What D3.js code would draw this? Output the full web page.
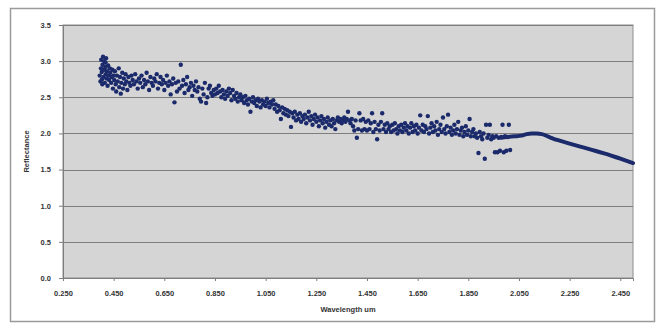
<!DOCTYPE html>
<html>
<head>
<meta charset="utf-8">
<script src="https://cdn.jsdelivr.net/npm/d3@7"></script>
<style>
  body { margin: 0; background: #fff; }
  svg { display: block; font-family: "Liberation Sans", Arial, sans-serif; }
</style>
</head>
<body>
<div id="chart"></div>
<script>
// scattered samples (µm, reflectance)
const wavelength = [
  0.395,0.398,0.400,0.401,0.403,0.405,0.406,0.408,0.410,0.412,0.413,0.415,0.417,0.419,0.420,
  0.422,0.424,0.426,0.428,0.430,0.432,0.435,0.437,0.440,0.442,0.445,0.447,0.450,0.404,0.418,
  0.452,0.455,0.458,0.460,0.463,0.466,0.470,0.472,0.475,0.478,0.480,0.484,0.487,0.490,0.494,
  0.497,0.500,0.504,0.508,0.512,0.516,0.520,0.525,0.530,0.535,0.540,0.545,0.550,
  0.555,0.560,0.565,0.570,0.575,0.580,0.585,0.590,0.595,0.600,0.605,0.610,0.615,0.620,0.625,
  0.630,0.635,0.640,0.645,0.650,0.655,0.660,0.665,0.670,0.675,0.680,0.685,0.690,0.695,0.700,
  0.705,0.710,0.715,0.720,0.725,0.730,0.735,0.740,0.745,0.750,0.755,0.760,0.765,0.770,0.775,
  0.780,0.785,0.790,0.795,0.800,0.805,0.810,0.815,0.820,0.825,0.830,0.835,0.840,0.845,0.850,
  0.855,0.860,0.865,0.870,0.875,0.880,0.885,0.890,0.895,0.900,0.905,0.910,0.915,0.920,0.925,
  0.930,0.935,0.940,0.945,0.950,0.955,0.960,0.965,0.970,0.975,0.980,0.985,0.990,0.995,1.000,
  1.005,1.010,1.015,1.020,1.025,1.030,1.035,1.040,1.045,1.050,1.055,1.060,1.065,1.070,1.075,
  1.080,1.085,1.090,1.095,1.100,1.105,1.110,1.115,1.120,1.125,1.130,1.135,1.140,1.145,1.150,
  1.155,1.160,1.165,1.170,1.175,1.180,1.185,1.190,1.195,1.200,
  1.205,1.210,1.215,1.220,1.225,1.230,1.235,1.240,1.245,1.250,1.255,1.260,1.265,1.270,1.275,
  1.280,1.285,1.290,1.295,1.300,1.305,1.310,1.315,1.320,1.325,1.330,1.335,1.340,1.345,1.350,
  1.355,1.360,1.365,1.370,1.375,1.380,1.385,1.390,1.395,1.400,1.405,1.410,1.415,1.420,1.425,
  1.430,1.435,1.440,1.445,
  1.450,1.455,1.460,1.465,1.470,1.475,1.480,1.485,1.490,1.495,1.500,1.505,1.510,1.515,1.520,
  1.525,1.530,1.535,1.540,1.545,1.550,1.555,1.560,1.565,1.570,1.575,1.580,1.585,1.590,1.595,
  1.600,1.605,1.610,1.615,1.620,1.625,1.630,1.635,1.640,1.645,1.650,1.655,1.660,1.665,1.670,
  1.675,1.680,1.685,1.690,1.695,1.700,1.705,1.710,1.715,1.720,1.725,1.730,1.735,1.740,1.745,
  1.750,1.755,1.760,1.765,1.770,1.775,1.780,1.785,1.790,1.795,1.800,1.805,1.810,1.815,1.820,
  1.825,1.830,1.835,1.840,1.845,1.850,1.855,1.860,1.865,1.870,1.875,1.880,1.885,1.890,1.895,
  1.900,1.905,1.910,1.915,1.920,1.925,1.930,1.935,1.940,1.945,1.950,1.955,1.960,1.965,1.970,
  1.975,1.980,1.985,1.990,1.995,2.000,2.005,2.010,2.015
];
const reflectance = [
  2.80,2.72,2.90,3.02,2.85,2.68,2.95,3.06,2.78,2.88,3.00,2.70,2.92,2.82,3.04,
  2.76,2.86,2.66,2.94,2.80,2.74,2.90,2.84,2.70,2.78,2.88,2.62,2.80,2.75,2.98,
  2.74,2.86,2.68,2.58,2.80,2.72,2.90,2.64,2.78,2.55,2.70,2.84,2.62,2.76,2.68,
  2.82,2.72,2.60,2.78,2.70,2.66,2.80,2.74,2.68,2.82,2.72,2.62,2.76,
  2.70,2.80,2.64,2.74,2.68,2.84,2.72,2.60,2.78,2.70,2.66,2.76,2.72,2.82,2.62,
  2.70,2.78,2.68,2.74,2.60,2.70,2.80,2.66,2.72,2.54,2.68,2.76,2.43,2.70,2.58,
  2.72,2.62,2.95,2.66,2.74,2.56,2.68,2.78,2.60,2.64,2.70,2.52,2.66,2.60,2.72,
  2.58,2.64,2.48,2.44,2.62,2.54,2.70,2.42,2.50,2.62,2.66,2.56,2.52,2.60,2.54,
  2.62,2.56,2.66,2.58,2.50,2.60,2.54,2.48,2.58,2.52,2.62,2.56,2.46,2.60,2.52,
  2.48,2.56,2.44,2.50,2.54,2.46,2.50,2.42,2.52,2.46,2.40,2.48,2.30,2.44,2.50,
  2.42,2.46,2.38,2.48,2.44,2.36,2.46,2.40,2.44,2.38,2.48,2.42,2.36,2.44,2.40,
  2.46,2.34,2.40,2.30,2.38,2.32,2.20,2.36,2.28,2.34,2.26,2.32,2.24,2.30,2.09,
  2.28,2.22,2.30,2.18,2.26,2.20,2.28,2.16,2.24,2.20,
  2.26,2.14,2.22,2.30,2.18,2.24,2.12,2.20,2.26,2.16,2.22,2.10,2.18,2.24,2.14,
  2.20,2.08,2.16,2.22,2.12,2.18,2.10,2.20,2.14,2.06,2.18,2.22,2.16,2.20,2.14,
  2.18,2.22,2.16,2.20,2.30,2.18,2.14,2.20,2.10,2.04,2.18,1.94,2.06,2.28,2.18,
  2.04,2.20,2.06,2.16,
  2.04,2.18,2.06,2.14,2.28,2.02,2.16,2.06,1.92,2.12,2.04,2.16,2.28,2.06,2.12,
  2.02,2.14,2.06,2.10,2.02,2.12,2.04,2.14,2.06,2.00,2.10,2.04,2.12,2.02,2.08,
  2.14,2.04,2.10,2.00,2.08,2.14,2.02,2.10,2.04,2.12,2.00,2.08,2.25,2.04,2.12,
  2.02,2.10,2.06,2.24,2.00,2.08,2.14,2.02,2.10,2.04,2.16,1.98,2.06,2.12,2.02,
  2.22,2.06,2.00,2.10,2.26,2.02,2.08,1.98,2.04,2.12,2.00,2.06,2.16,1.98,2.04,
  2.08,1.96,2.02,2.10,1.98,2.04,2.20,1.96,2.02,2.06,1.96,2.00,1.94,1.73,2.02,
  1.96,1.92,2.00,1.65,2.12,1.94,1.98,2.12,1.92,1.96,1.94,1.74,1.96,1.74,1.94,
  1.76,1.95,2.12,1.74,1.96,1.76,1.95,2.12,1.77
];

// continuous end of the spectrum
const tailWavelength = [1.98, 2.00, 2.03, 2.06, 2.08, 2.10, 2.12, 2.14, 2.17, 2.20, 2.25, 2.30, 2.35, 2.40, 2.45, 2.50];
const tailReflectance = [1.94, 1.95, 1.96, 1.97, 1.99, 2.00, 2.00, 1.99, 1.95, 1.91, 1.86, 1.81, 1.76, 1.71, 1.65, 1.59];

const xTicks = [0.25, 0.45, 0.65, 0.85, 1.05, 1.25, 1.45, 1.65, 1.85, 2.05, 2.25, 2.45];
const yTicks = [0, 0.5, 1.0, 1.5, 2.0, 2.5, 3.0, 3.5];

const width = 662, height = 325;
const margin = { top: 25, right: 29, bottom: 47, left: 63 };
const innerW = width - margin.left - margin.right;
const innerH = height - margin.top - margin.bottom;
const dotColor = '#1b2a6b';

const svg = d3.select('#chart').append('svg')
  .attr('width', width)
  .attr('height', height);

// outer chart frame
svg.append('rect')
  .attr('x', 10.5).attr('y', 8.5)
  .attr('width', 644).attr('height', 313)
  .attr('fill', '#fff')
  .attr('stroke', '#9a9a9a')
  .attr('stroke-width', 1.5);

const g = svg.append('g')
  .attr('transform', `translate(${margin.left},${margin.top})`);

const x = d3.scaleLinear().domain([0.25, 2.5]).range([0, innerW]);
const y = d3.scaleLinear().domain([0, 3.5]).range([innerH, 0]);

// plot area
g.append('rect')
  .attr('width', innerW).attr('height', innerH)
  .attr('fill', '#d5d5d5')
  .attr('stroke', '#8c8c8c');

// gridlines
g.append('g')
  .selectAll('line')
  .data(yTicks)
  .join('line')
  .attr('x1', 0).attr('x2', innerW)
  .attr('y1', d => Math.round(y(d)) + 0.5)
  .attr('y2', d => Math.round(y(d)) + 0.5)
  .attr('stroke', '#7e7e7e');

// axes
const yAxis = g.append('g')
  .call(d3.axisLeft(y).tickValues(yTicks).tickFormat(d3.format('.1f')).tickSize(4).tickPadding(8));
const xAxis = g.append('g')
  .attr('transform', `translate(0,${innerH})`)
  .call(d3.axisBottom(x).tickValues(xTicks).tickFormat(d3.format('.3f')).tickSize(3).tickPadding(10));

[yAxis, xAxis].forEach(a => {
  a.select('.domain').attr('stroke', '#7e7e7e');
  a.selectAll('.tick line').attr('stroke', '#7e7e7e');
  a.selectAll('text')
    .attr('fill', '#333')
    .style('font-size', '7.5px')
    .style('font-weight', 'bold');
});

// scatter
const points = wavelength.map((w, i) => ({ w, r: reflectance[i] }));
g.append('g')
  .selectAll('circle')
  .data(points)
  .join('circle')
  .attr('cx', d => x(d.w))
  .attr('cy', d => y(d.r))
  .attr('r', 2.2)
  .attr('fill', dotColor);

// tail line
const tail = tailWavelength.map((w, i) => ({ w, r: tailReflectance[i] }));
g.append('path')
  .datum(tail)
  .attr('fill', 'none')
  .attr('stroke', dotColor)
  .attr('stroke-width', 4)
  .attr('stroke-linecap', 'round')
  .attr('d', d3.line().x(d => x(d.w)).y(d => y(d.r)).curve(d3.curveMonotoneX));

// titles
svg.append('text')
  .attr('transform', `translate(29,${margin.top + innerH / 2}) rotate(-90)`)
  .attr('text-anchor', 'middle')
  .attr('fill', '#333')
  .style('font-size', '7.5px')
  .style('font-weight', 'bold')
  .text('Reflectance');

svg.append('text')
  .attr('x', margin.left + innerW / 2)
  .attr('y', 312)
  .attr('text-anchor', 'middle')
  .attr('fill', '#333')
  .style('font-size', '7.5px')
  .style('font-weight', 'bold')
  .text('Wavelength um');
</script>
</body>
</html>
